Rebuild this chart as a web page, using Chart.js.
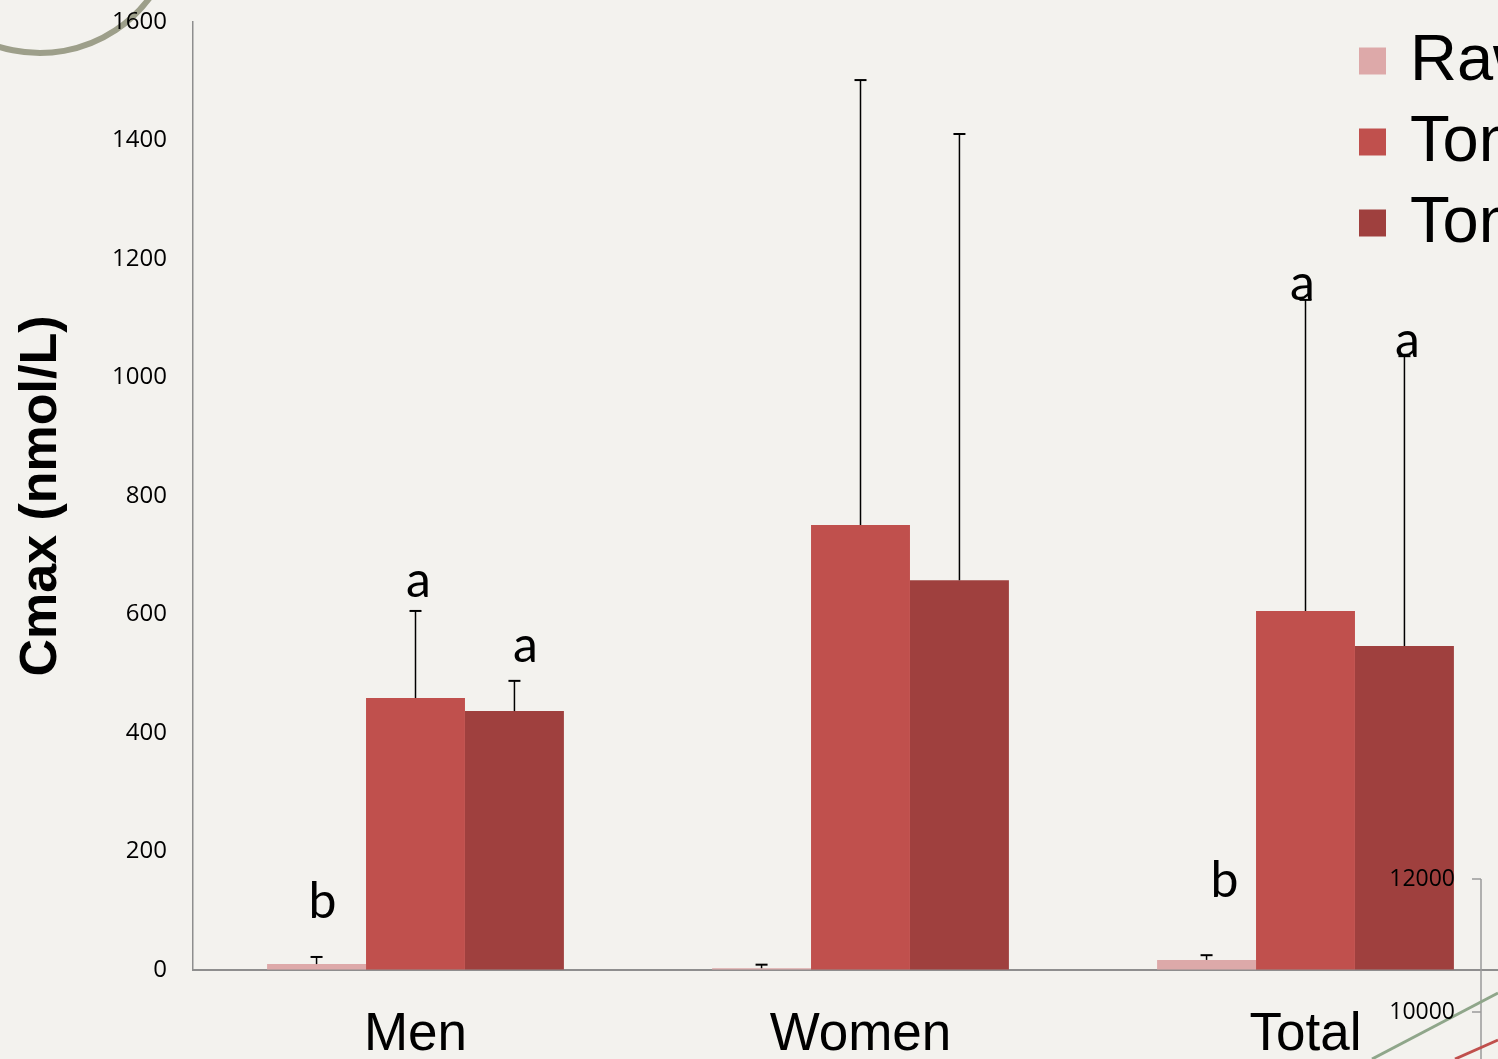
<!DOCTYPE html>
<html>
<head>
<meta charset="utf-8">
<script src="https://cdn.jsdelivr.net/npm/chart.js@4/dist/chart.umd.min.js"></script>
<style>
  html, body { margin: 0; padding: 0; overflow: hidden; background: #F3F2EE; }
  canvas { display: block; }
</style>
</head>
<body>
<canvas id="cmaxChart" width="1528" height="1059"></canvas>
<script>
// groups and series
const groups = ['Men', 'Women', 'Total'];
const seriesNames = ['Raw tomato', 'Tomato sauce', 'Tomato paste'];
const seriesColors = ['#DDA9A9', '#C0504D', '#9F403E'];

// Cmax means (nmol/L)
const rawValues = [10, 3, 17];
const sauceValues = [459, 751, 606];
const pasteValues = [437, 658, 547];

// upper SD for error bars
const rawSD = [12, 6, 8];
const sauceSD = [147, 751, 525];
const pasteSD = [51, 753, 489];

const yTicks = [0, 200, 400, 600, 800, 1000, 1200, 1400, 1600];

// significance letters: text, series, group, baseline value, x shift
const letterText = ['b', 'a', 'a', 'b', 'a', 'a'];
const letterSeries = [0, 1, 2, 0, 1, 2];
const letterGroup = [0, 0, 0, 2, 2, 2];
const letterValue = [88, 630, 520, 123, 1131, 1035];
const letterShift = [6, 3, 11, 18, -3, 3];

const allValues = [rawValues, sauceValues, pasteValues];
const allSD = [rawSD, sauceSD, pasteSD];

// error bars, drawn above each bar
const errorBars = {
    id: 'errorBars',
    afterDatasetsDraw(chart) {
        const ctx = chart.ctx;
        const y = chart.scales.y;
        ctx.save();
        ctx.strokeStyle = '#000';
        chart.data.datasets.forEach((ds, i) => {
            const meta = chart.getDatasetMeta(i);
            meta.data.forEach((bar, j) => {
                const top = y.getPixelForValue(ds.data[j] + allSD[i][j]);
                ctx.lineWidth = 1.5;
                ctx.beginPath();
                ctx.moveTo(bar.x, bar.y);
                ctx.lineTo(bar.x, top);
                ctx.stroke();
                ctx.lineWidth = 2;
                ctx.beginPath();
                ctx.moveTo(bar.x - 6, top);
                ctx.lineTo(bar.x + 6, top);
                ctx.stroke();
            });
        });
        ctx.restore();
    }
};

// letters a / b
const letters = {
    id: 'letters',
    afterDatasetsDraw(chart) {
        const ctx = chart.ctx;
        const y = chart.scales.y;
        ctx.save();
        ctx.fillStyle = '#000';
        ctx.font = '50px Lato';
        ctx.textAlign = 'center';
        ctx.textBaseline = 'alphabetic';
        letterText.forEach((t, k) => {
            const bar = chart.getDatasetMeta(letterSeries[k]).data[letterGroup[k]];
            ctx.fillText(t, bar.x + letterShift[k], y.getPixelForValue(letterValue[k]));
        });
        ctx.restore();
    }
};

// legend at top right (runs off the page)
const sideLegend = {
    id: 'sideLegend',
    afterDraw(chart) {
        const ctx = chart.ctx;
        ctx.save();
        ctx.font = '65px "Liberation Sans"';
        ctx.textBaseline = 'alphabetic';
        chart.data.datasets.forEach((ds, i) => {
            const rowY = 61 + i * 81;
            ctx.fillStyle = ds.backgroundColor;
            ctx.fillRect(1359, rowY - 13.5, 27, 27);
            ctx.fillStyle = '#000';
            ctx.fillText(ds.label, 1410, rowY + 19);
        });
        ctx.restore();
    }
};

// slide decorations: arc top-left, second chart's axis and lines bottom-right
const decorations = {
    id: 'decorations',
    beforeDraw(chart) {
        const ctx = chart.ctx;
        ctx.save();
        ctx.strokeStyle = '#9D9F8A';
        ctx.lineWidth = 6;
        ctx.beginPath();
        ctx.arc(40, -83.5, 136.5, 0.2, Math.PI - 0.2);
        ctx.stroke();
        ctx.restore();
    },
    afterDraw(chart) {
        const ctx = chart.ctx;
        ctx.save();
        ctx.strokeStyle = '#9A9A9A';
        ctx.lineWidth = 1.5;
        ctx.beginPath();
        ctx.moveTo(1481, 879);
        ctx.lineTo(1481, 1059);
        ctx.moveTo(1472, 879);
        ctx.lineTo(1481, 879);
        ctx.moveTo(1472, 1012);
        ctx.lineTo(1481, 1012);
        ctx.stroke();
        ctx.lineWidth = 3;
        ctx.strokeStyle = '#8FA68A';
        ctx.beginPath();
        ctx.moveTo(1372, 1059);
        ctx.lineTo(1498, 993);
        ctx.stroke();
        ctx.strokeStyle = '#C0504D';
        ctx.beginPath();
        ctx.moveTo(1455, 1059);
        ctx.lineTo(1498, 1040);
        ctx.stroke();
        ctx.fillStyle = '#000';
        ctx.font = '23px "Open Sans"';
        ctx.textAlign = 'right';
        ctx.textBaseline = 'middle';
        ctx.fillText('12000', 1455, 879);
        ctx.fillText('10000', 1455, 1012);
        ctx.restore();
    }
};

new Chart(document.getElementById('cmaxChart'), {
    type: 'bar',
    data: {
        labels: groups,
        datasets: seriesNames.map((name, i) => ({
            label: name,
            data: allValues[i],
            backgroundColor: seriesColors[i],
            categoryPercentage: 0.667,
            barPercentage: 1.0
        }))
    },
    options: {
        responsive: false,
        animation: false,
        devicePixelRatio: 1,
        layout: { padding: { top: 22, left: 0, right: 0, bottom: 0 } },
        plugins: {
            legend: { display: false },
            tooltip: { enabled: false }
        },
        scales: {
            x: {
                grid: { drawOnChartArea: false, drawTicks: false },
                border: { display: true, color: '#8E8E8E', width: 2 },
                ticks: {
                    color: '#000',
                    padding: 34,
                    font: { family: '"Liberation Sans"', size: 53 }
                },
                afterFit(scale) { scale.height = 89; }
            },
            y: {
                min: 0,
                max: 1600,
                afterBuildTicks(scale) {
                    scale.ticks = yTicks.map(v => ({ value: v }));
                },
                grid: { drawOnChartArea: false, drawTicks: false },
                border: { display: true, color: '#8E8E8E', width: 1.5 },
                ticks: {
                    color: '#000',
                    padding: 26,
                    font: { family: '"Open Sans"', size: 24 },
                    callback: v => String(v)
                },
                title: {
                    display: true,
                    text: 'Cmax (nmol/L)',
                    color: '#000',
                    padding: { top: 10, bottom: 0 },
                    font: { family: '"Liberation Sans"', size: 52, weight: 'bold' }
                },
                afterFit(scale) {
                    scale.width = 193;
                    scale.paddingTop = 0;
                    scale.paddingBottom = 0;
                }
            }
        }
    },
    plugins: [decorations, errorBars, letters, sideLegend]
});
</script>
</body>
</html>
